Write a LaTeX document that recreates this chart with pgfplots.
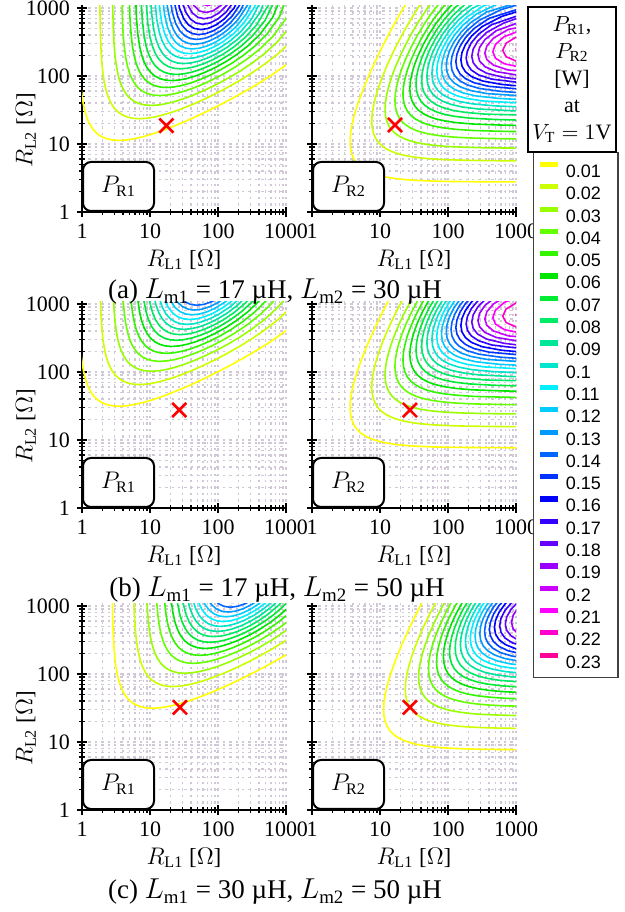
\documentclass[border=0pt]{standalone}
\usepackage{fontspec}
\setmainfont{Liberation Serif}
\newfontfamily\sansf{Liberation Sans}
\usepackage{pgfplots}
\usepackage{pgfplotstable}
\pgfplotsset{compat=1.18}

\definecolor{c1}{RGB}{255,255,0}
\definecolor{c2}{RGB}{204,255,0}
\definecolor{c3}{RGB}{153,255,0}
\definecolor{c4}{RGB}{102,255,0}
\definecolor{c5}{RGB}{51,245,0}
\definecolor{c6}{RGB}{0,230,0}
\definecolor{c7}{RGB}{0,235,51}
\definecolor{c8}{RGB}{0,235,102}
\definecolor{c9}{RGB}{0,230,153}
\definecolor{c10}{RGB}{0,230,204}
\definecolor{c11}{RGB}{0,240,255}
\definecolor{c12}{RGB}{0,204,255}
\definecolor{c13}{RGB}{0,153,255}
\definecolor{c14}{RGB}{0,102,255}
\definecolor{c15}{RGB}{0,51,255}
\definecolor{c16}{RGB}{0,0,255}
\definecolor{c17}{RGB}{51,0,255}
\definecolor{c18}{RGB}{102,0,255}
\definecolor{c19}{RGB}{153,0,255}
\definecolor{c20}{RGB}{204,0,255}
\definecolor{c21}{RGB}{255,0,255}
\definecolor{c22}{RGB}{255,0,204}
\definecolor{c23}{RGB}{255,0,153}
\definecolor{gridc}{RGB}{208,199,215}

% contour lines, log10 coordinates relative to log10((omega L_m)^2)
\pgfplotstableread[row sep=\\]{X Y\\
-1.991 1.35\\ -1.989 0.642\\ -1.986 0.271\\ -1.983 0.037\\ -1.979 -0.143\\ -1.973 -0.295\\ -1.966 -0.429\\ -1.958 -0.550\\ -1.947 -0.661\\ -1.934 -0.765\\ -1.917 -0.861\\ -1.897 -0.951\\ -1.872 -1.034\\ -1.842 -1.110\\ -1.805 -1.177\\ -1.761 -1.237\\ -1.709 -1.287\\ -1.647 -1.327\\ -1.575 -1.356\\ -1.492 -1.374\\ -1.398 -1.380\\ -1.292 -1.374\\ -1.175 -1.356\\ -1.047 -1.327\\ -0.909 -1.287\\ -0.761 -1.237\\ -0.605 -1.177\\ -0.442 -1.110\\ -0.272 -1.034\\ -0.097 -0.951\\ 0.083 -0.861\\ 0.266 -0.765\\ 0.453 -0.661\\ 0.643 -0.550\\ 0.834 -0.429\\ 1.027 -0.295\\ 1.222 -0.143\\
}\ctA
\pgfplotstableread[row sep=\\]{X Y\\
-1.681 1.35\\ -1.678 0.710\\ -1.672 0.314\\ -1.665 0.075\\ -1.657 -0.105\\ -1.646 -0.253\\ -1.633 -0.382\\ -1.616 -0.496\\ -1.596 -0.598\\ -1.571 -0.691\\ -1.541 -0.773\\ -1.504 -0.847\\ -1.460 -0.910\\ -1.408 -0.963\\ -1.346 -1.005\\ -1.274 -1.036\\ -1.191 -1.055\\ -1.097 -1.061\\ -0.991 -1.055\\ -0.874 -1.036\\ -0.746 -1.005\\ -0.608 -0.963\\ -0.460 -0.910\\ -0.304 -0.847\\ -0.141 -0.773\\ 0.029 -0.691\\ 0.204 -0.598\\ 0.384 -0.496\\ 0.567 -0.382\\ 0.754 -0.253\\ 0.944 -0.105\\ 1.135 0.075\\
}\ctB
\pgfplotstableread[row sep=\\]{X Y\\
-1.496 1.35\\ -1.489 0.643\\ -1.480 0.288\\ -1.470 0.065\\ -1.457 -0.105\\ -1.440 -0.244\\ -1.420 -0.364\\ -1.395 -0.468\\ -1.365 -0.559\\ -1.328 -0.638\\ -1.284 -0.706\\ -1.232 -0.763\\ -1.170 -0.807\\ -1.098 -0.839\\ -1.015 -0.859\\ -0.921 -0.865\\ -0.815 -0.859\\ -0.698 -0.839\\ -0.570 -0.807\\ -0.432 -0.763\\ -0.284 -0.706\\ -0.128 -0.638\\ 0.035 -0.559\\ 0.205 -0.468\\ 0.380 -0.364\\ 0.560 -0.244\\ 0.744 -0.105\\ 0.930 0.065\\ 1.120 0.288\\
}\ctC
\pgfplotstableread[row sep=\\]{X Y\\
-1.361 1.35\\ -1.355 0.866\\ -1.345 0.403\\ -1.332 0.152\\ -1.315 -0.028\\ -1.295 -0.171\\ -1.270 -0.291\\ -1.240 -0.392\\ -1.203 -0.479\\ -1.159 -0.552\\ -1.107 -0.612\\ -1.045 -0.659\\ -0.973 -0.693\\ -0.890 -0.713\\ -0.796 -0.720\\ -0.690 -0.713\\ -0.573 -0.693\\ -0.445 -0.659\\ -0.307 -0.612\\ -0.159 -0.552\\ -0.003 -0.479\\ 0.160 -0.392\\ 0.330 -0.291\\ 0.505 -0.171\\ 0.685 -0.028\\ 0.869 0.152\\ 1.055 0.403\\ 1.245 0.866\\
}\ctD
\pgfplotstableread[row sep=\\]{X Y\\
-1.254 1.35\\ -1.248 0.933\\ -1.235 0.440\\ -1.218 0.185\\ -1.198 0.006\\ -1.173 -0.134\\ -1.143 -0.249\\ -1.106 -0.344\\ -1.062 -0.423\\ -1.010 -0.488\\ -0.948 -0.538\\ -0.876 -0.573\\ -0.793 -0.595\\ -0.699 -0.602\\ -0.593 -0.595\\ -0.476 -0.573\\ -0.348 -0.538\\ -0.210 -0.488\\ -0.062 -0.423\\ 0.094 -0.344\\ 0.257 -0.249\\ 0.427 -0.134\\ 0.602 0.006\\ 0.782 0.185\\ 0.965 0.440\\ 1.152 0.933\\
}\ctE
\pgfplotstableread[row sep=\\]{X Y\\
-1.164 1.35\\ -1.155 0.866\\ -1.139 0.423\\ -1.119 0.184\\ -1.094 0.014\\ -1.064 -0.118\\ -1.027 -0.224\\ -0.983 -0.310\\ -0.931 -0.379\\ -0.869 -0.432\\ -0.797 -0.470\\ -0.714 -0.493\\ -0.620 -0.501\\ -0.514 -0.493\\ -0.397 -0.470\\ -0.269 -0.432\\ -0.131 -0.379\\ 0.017 -0.310\\ 0.173 -0.224\\ 0.336 -0.118\\ 0.506 0.014\\ 0.681 0.184\\ 0.861 0.423\\ 1.045 0.866\\ 1.164 1.35\\
}\ctF
\pgfplotstableread[row sep=\\]{X Y\\
-1.087 1.35\\ -1.072 0.743\\ -1.052 0.378\\ -1.027 0.163\\ -0.997 0.008\\ -0.960 -0.111\\ -0.916 -0.206\\ -0.864 -0.281\\ -0.802 -0.338\\ -0.730 -0.378\\ -0.647 -0.402\\ -0.553 -0.410\\ -0.447 -0.402\\ -0.330 -0.378\\ -0.202 -0.338\\ -0.064 -0.281\\ 0.084 -0.206\\ 0.240 -0.111\\ 0.403 0.008\\ 0.573 0.163\\ 0.748 0.378\\ 0.928 0.743\\ 1.087 1.35\\
}\ctG
\pgfplotstableread[row sep=\\]{X Y\\
-1.014 1.481\\ -0.994 0.617\\ -0.969 0.322\\ -0.939 0.135\\ -0.902 -0.002\\ -0.858 -0.108\\ -0.806 -0.189\\ -0.744 -0.250\\ -0.672 -0.293\\ -0.589 -0.319\\ -0.495 -0.327\\ -0.389 -0.319\\ -0.272 -0.293\\ -0.144 -0.250\\ -0.006 -0.189\\ 0.142 -0.108\\ 0.298 -0.002\\ 0.461 0.135\\ 0.631 0.322\\ 0.806 0.617\\ 0.986 1.481\\
}\ctH
\pgfplotstableread[row sep=\\]{X Y\\
-0.954 1.35\\ -0.943 0.985\\ -0.918 0.506\\ -0.888 0.267\\ -0.851 0.106\\ -0.807 -0.012\\ -0.755 -0.101\\ -0.693 -0.168\\ -0.621 -0.214\\ -0.538 -0.241\\ -0.444 -0.250\\ -0.338 -0.241\\ -0.221 -0.214\\ -0.093 -0.168\\ 0.045 -0.101\\ 0.193 -0.012\\ 0.349 0.106\\ 0.512 0.267\\ 0.682 0.506\\ 0.857 0.985\\ 0.954 1.35\\
}\ctI
\pgfplotstableread[row sep=\\]{X Y\\
-0.896 1.35\\ -0.872 0.743\\ -0.842 0.413\\ -0.805 0.219\\ -0.761 0.083\\ -0.709 -0.016\\ -0.647 -0.088\\ -0.575 -0.137\\ -0.492 -0.167\\ -0.398 -0.176\\ -0.292 -0.167\\ -0.175 -0.137\\ -0.047 -0.088\\ 0.091 -0.016\\ 0.239 0.083\\ 0.395 0.219\\ 0.558 0.413\\ 0.728 0.743\\ 0.896 1.35\\
}\ctJ
\pgfplotstableread[row sep=\\]{X Y\\
-0.831 1.133\\ -0.801 0.584\\ -0.764 0.339\\ -0.720 0.181\\ -0.668 0.070\\ -0.606 -0.009\\ -0.534 -0.063\\ -0.451 -0.094\\ -0.357 -0.105\\ -0.251 -0.094\\ -0.134 -0.063\\ -0.006 -0.009\\ 0.133 0.070\\ 0.280 0.181\\ 0.436 0.339\\ 0.599 0.584\\ 0.769 1.133\\
}\ctK
\pgfplotstableread[row sep=\\]{X Y\\
-0.790 1.35\\ -0.763 0.808\\ -0.726 0.472\\ -0.682 0.283\\ -0.630 0.157\\ -0.568 0.069\\ -0.496 0.010\\ -0.413 -0.024\\ -0.319 -0.035\\ -0.213 -0.024\\ -0.096 0.010\\ 0.032 0.069\\ 0.170 0.157\\ 0.318 0.283\\ 0.474 0.472\\ 0.637 0.808\\ 0.790 1.35\\
}\ctL
\pgfplotstableread[row sep=\\]{X Y\\
-0.728 1.176\\ -0.691 0.630\\ -0.647 0.394\\ -0.595 0.247\\ -0.533 0.148\\ -0.461 0.084\\ -0.378 0.047\\ -0.284 0.035\\ -0.178 0.047\\ -0.061 0.084\\ 0.067 0.148\\ 0.205 0.247\\ 0.353 0.394\\ 0.509 0.630\\ 0.672 1.176\\
}\ctM
\pgfplotstableread[row sep=\\]{X Y\\
-0.694 1.35\\ -0.659 0.835\\ -0.615 0.517\\ -0.563 0.342\\ -0.501 0.230\\ -0.429 0.159\\ -0.346 0.118\\ -0.252 0.105\\ -0.146 0.118\\ -0.029 0.159\\ 0.099 0.230\\ 0.237 0.342\\ 0.385 0.517\\ 0.541 0.835\\ 0.694 1.35\\
}\ctN
\pgfplotstableread[row sep=\\]{X Y\\
-0.629 1.157\\ -0.585 0.664\\ -0.533 0.446\\ -0.471 0.316\\ -0.399 0.236\\ -0.316 0.191\\ -0.222 0.176\\ -0.116 0.191\\ 0.001 0.236\\ 0.129 0.316\\ 0.267 0.446\\ 0.415 0.664\\ 0.571 1.157\\
}\ctO
\pgfplotstableread[row sep=\\]{X Y\\
-0.601 1.35\\ -0.557 0.851\\ -0.505 0.564\\ -0.443 0.409\\ -0.371 0.317\\ -0.288 0.266\\ -0.194 0.250\\ -0.088 0.266\\ 0.029 0.317\\ 0.157 0.409\\ 0.295 0.564\\ 0.443 0.851\\ 0.601 1.35\\
}\ctP
\pgfplotstableread[row sep=\\]{X Y\\
-0.531 1.133\\ -0.479 0.703\\ -0.417 0.511\\ -0.345 0.403\\ -0.262 0.346\\ -0.168 0.327\\ -0.062 0.346\\ 0.055 0.403\\ 0.183 0.511\\ 0.322 0.703\\ 0.469 1.133\\
}\ctQ
\pgfplotstableread[row sep=\\]{X Y\\
-0.512 1.35\\ -0.454 0.881\\ -0.392 0.628\\ -0.320 0.498\\ -0.237 0.431\\ -0.143 0.410\\ -0.037 0.431\\ 0.080 0.498\\ 0.208 0.628\\ 0.346 0.881\\ 0.512 1.35\\
}\ctR
\pgfplotstableread[row sep=\\]{X Y\\
-0.430 1.143\\ -0.368 0.768\\ -0.296 0.605\\ -0.213 0.525\\ -0.119 0.501\\ -0.013 0.525\\ 0.104 0.605\\ 0.232 0.768\\ 0.370 1.143\\
}\ctS
\pgfplotstableread[row sep=\\]{X Y\\
-0.408 1.736\\ -0.346 0.951\\ -0.274 0.731\\ -0.191 0.632\\ -0.097 0.602\\ 0.009 0.632\\ 0.126 0.731\\ 0.254 0.951\\ 0.392 1.736\\
}\ctT
\pgfplotstableread[row sep=\\]{X Y\\
-0.325 1.229\\ -0.253 0.888\\ -0.170 0.757\\ -0.076 0.720\\ 0.030 0.757\\ 0.147 0.888\\ 0.275 1.229\\
}\ctU
\pgfplotstableread[row sep=\\]{X Y\\
-0.305 1.962\\ -0.233 1.107\\ -0.150 0.916\\ -0.056 0.865\\ 0.050 0.916\\ 0.167 1.107\\ 0.295 1.962\\
}\ctV
\pgfplotstableread[row sep=\\]{X Y\\
-0.213 1.505\\ -0.131 1.139\\ -0.036 1.061\\ 0.070 1.139\\ 0.187 1.505\\
}\ctW

\newcommand\contours[4]{%
\addplot[cl,c1,xshift=#3,yshift=#4] table[x=#1,y=#2]{\ctA};
\addplot[cl,c2,xshift=#3,yshift=#4] table[x=#1,y=#2]{\ctB};
\addplot[cl,c3,xshift=#3,yshift=#4] table[x=#1,y=#2]{\ctC};
\addplot[cl,c4,xshift=#3,yshift=#4] table[x=#1,y=#2]{\ctD};
\addplot[cl,c5,xshift=#3,yshift=#4] table[x=#1,y=#2]{\ctE};
\addplot[cl,c6,xshift=#3,yshift=#4] table[x=#1,y=#2]{\ctF};
\addplot[cl,c7,xshift=#3,yshift=#4] table[x=#1,y=#2]{\ctG};
\addplot[cl,c8,xshift=#3,yshift=#4] table[x=#1,y=#2]{\ctH};
\addplot[cl,c9,xshift=#3,yshift=#4] table[x=#1,y=#2]{\ctI};
\addplot[cl,c10,xshift=#3,yshift=#4] table[x=#1,y=#2]{\ctJ};
\addplot[cl,c11,xshift=#3,yshift=#4] table[x=#1,y=#2]{\ctK};
\addplot[cl,c12,xshift=#3,yshift=#4] table[x=#1,y=#2]{\ctL};
\addplot[cl,c13,xshift=#3,yshift=#4] table[x=#1,y=#2]{\ctM};
\addplot[cl,c14,xshift=#3,yshift=#4] table[x=#1,y=#2]{\ctN};
\addplot[cl,c15,xshift=#3,yshift=#4] table[x=#1,y=#2]{\ctO};
\addplot[cl,c16,xshift=#3,yshift=#4] table[x=#1,y=#2]{\ctP};
\addplot[cl,c17,xshift=#3,yshift=#4] table[x=#1,y=#2]{\ctQ};
\addplot[cl,c18,xshift=#3,yshift=#4] table[x=#1,y=#2]{\ctR};
\addplot[cl,c19,xshift=#3,yshift=#4] table[x=#1,y=#2]{\ctS};
\addplot[cl,c20,xshift=#3,yshift=#4] table[x=#1,y=#2]{\ctT};
\addplot[cl,c21,xshift=#3,yshift=#4] table[x=#1,y=#2]{\ctU};
\addplot[cl,c22,xshift=#3,yshift=#4] table[x=#1,y=#2]{\ctV};
\addplot[cl,c23,xshift=#3,yshift=#4] table[x=#1,y=#2]{\ctW};
}

\tikzset{
 plab/.style={draw, rounded corners=4pt, fill=white, line width=1pt, minimum width=35.5pt, minimum height=24.5pt, anchor=south west, inner sep=0pt, font=\fontsize{11.5}{12}\selectfont},
}
\pgfplotsset{
 cl/.style={no marks, line width=0.8pt, line join=round},
 xmk/.style={only marks, mark=x, mark size=5pt, red, mark options={line width=1.3pt}},
 panel/.style={
  scale only axis, width=102pt, height=103.36pt, anchor=south west,
  xmin=0, xmax=3, ymin=0, ymax=3.04,
  axis x line=bottom, axis y line=left,
  axis line style={line width=1pt, -},
  xtick={0,1,2,3}, ytick={0,1,2,3},
  xticklabels={\textrm{1},\textrm{10},\textrm{100},\textrm{1000}},
  minor xtick={0.301,0.477,0.602,0.699,0.778,0.845,0.903,0.954,1.301,1.477,1.602,1.699,1.778,1.845,1.903,1.954,2.301,2.477,2.602,2.699,2.778,2.845,2.903,2.954},
  minor ytick={0.301,0.477,0.602,0.699,0.778,0.845,0.903,0.954,1.301,1.477,1.602,1.699,1.778,1.845,1.903,1.954,2.301,2.477,2.602,2.699,2.778,2.845,2.903,2.954},
  tick align=center, major tick length=5pt, minor tick length=3pt,
  every tick/.append style={black, line width=0.8pt},
  grid=both,
  minor grid style={gridc, line width=0.7pt, dash pattern=on 1.2pt off 2pt},
  major grid style={gridc, line width=0.7pt, dash pattern=on 1.2pt off 2pt},
  ticklabel style={font=\fontsize{11}{11}\selectfont},
  label style={font=\fontsize{11.5}{12}\selectfont},
  xlabel={$R_{\mathrm{L1}}$ [$\Omega$]},
  xlabel style={at={(axis description cs:0.5,-0.232)}, anchor=center},
 },
 lpanel/.style={panel,
  yticklabels={\textrm{1},\textrm{10},\textrm{100},\textrm{1000}},
  ylabel={$R_{\mathrm{L2}}$ [$\Omega$]},
  ylabel style={at={(axis description cs:-0.275,0.395)}, anchor=center},
 },
 rpanel/.style={panel, yticklabels={,,,}},
}

\begin{document}
\begin{tikzpicture}
\path[use as bounding box] (0,0) rectangle (312.5pt,456pt);

% (a)
\begin{axis}[lpanel, at={(41pt,350pt)}]
\contours{X}{Y}{65.943pt}{82.715pt}
\addplot[xmk] coordinates {(1.24,1.27)};
\node[plab] at (rel axis cs:0,0) {$P_{\mathrm{R1}}$};
\end{axis}
\begin{axis}[rpanel, at={(156pt,350pt)}]
\contours{Y}{X}{65.943pt}{82.715pt}
\addplot[xmk] coordinates {(1.22,1.28)};
\node[plab] at (rel axis cs:0,0) {$P_{\mathrm{R2}}$};
\end{axis}

% (b)
\begin{axis}[lpanel, at={(41pt,202pt)}]
\contours{X}{Y}{65.943pt}{97.801pt}
\addplot[xmk] coordinates {(1.43,1.44)};
\node[plab] at (rel axis cs:0,0) {$P_{\mathrm{R1}}$};
\end{axis}
\begin{axis}[rpanel, at={(156pt,202pt)}]
\contours{Y}{X}{65.943pt}{97.801pt}
\addplot[xmk] coordinates {(1.44,1.44)};
\node[plab] at (rel axis cs:0,0) {$P_{\mathrm{R2}}$};
\end{axis}

% (c)
\begin{axis}[lpanel, at={(41pt,51pt)}]
\contours{X}{Y}{82.715pt}{97.801pt}
\addplot[xmk] coordinates {(1.44,1.51)};
\node[plab] at (rel axis cs:0,0) {$P_{\mathrm{R1}}$};
\end{axis}
\begin{axis}[rpanel, at={(156pt,51pt)}]
\contours{Y}{X}{82.715pt}{97.801pt}
\addplot[xmk] coordinates {(1.44,1.51)};
\node[plab] at (rel axis cs:0,0) {$P_{\mathrm{R2}}$};
\end{axis}

% legend
\begin{axis}[hide axis, scale only axis, width=10pt, height=10pt,
  xmin=0, xmax=1, ymin=0, ymax=1, at={(266.5pt,380pt)}, anchor=north west,
  legend style={at={(0,1)}, anchor=north west, draw=black!75, line width=0.7pt,
    inner xsep=2pt, inner ysep=4.6pt, row sep=3.4pt, column sep=2.5pt,
    font=\sansf\fontsize{9}{9}\selectfont,
    nodes={inner sep=0pt, text height=6.5pt, text depth=0pt}},
  legend cell align=left,
  legend image code/.code={\draw[line width=2.6pt] (0pt,3.2pt) -- (9pt,3.2pt);}]
\addlegendimage{c1}\addlegendentry{\makebox[24pt][l]{0.01}}
\addlegendimage{c2}\addlegendentry{0.02}
\addlegendimage{c3}\addlegendentry{0.03}
\addlegendimage{c4}\addlegendentry{0.04}
\addlegendimage{c5}\addlegendentry{0.05}
\addlegendimage{c6}\addlegendentry{0.06}
\addlegendimage{c7}\addlegendentry{0.07}
\addlegendimage{c8}\addlegendentry{0.08}
\addlegendimage{c9}\addlegendentry{0.09}
\addlegendimage{c10}\addlegendentry{0.1}
\addlegendimage{c11}\addlegendentry{0.11}
\addlegendimage{c12}\addlegendentry{0.12}
\addlegendimage{c13}\addlegendentry{0.13}
\addlegendimage{c14}\addlegendentry{0.14}
\addlegendimage{c15}\addlegendentry{0.15}
\addlegendimage{c16}\addlegendentry{0.16}
\addlegendimage{c17}\addlegendentry{0.17}
\addlegendimage{c18}\addlegendentry{0.18}
\addlegendimage{c19}\addlegendentry{0.19}
\addlegendimage{c20}\addlegendentry{0.2}
\addlegendimage{c21}\addlegendentry{0.21}
\addlegendimage{c22}\addlegendentry{0.22}
\addlegendimage{c23}\addlegendentry{0.23}
\end{axis}

% title box
\node[draw, line width=0.9pt, anchor=north, minimum width=44pt, minimum height=72.5pt,
  inner sep=1pt, align=center, font=\fontsize{11}{13.5}\selectfont]
  at (286pt,453pt) {$P_{\mathrm{R1}}$,\\ $P_{\mathrm{R2}}$\\ {[W]}\\ at\\ $V_{\mathrm{T}}=1$V};

% captions
\node[font=\fontsize{13.5}{14}\selectfont] at (137.5pt,310pt)
  {(a) $L_{\mathrm{m1}}$\ =\ 17\ µH, $L_{\mathrm{m2}}$\ =\ 30\ µH};
\node[font=\fontsize{13.5}{14}\selectfont] at (138.5pt,161pt)
  {(b) $L_{\mathrm{m1}}$\ =\ 17\ µH, $L_{\mathrm{m2}}$\ =\ 50\ µH};
\node[font=\fontsize{13.5}{14}\selectfont] at (137.5pt,10pt)
  {(c) $L_{\mathrm{m1}}$\ =\ 30\ µH, $L_{\mathrm{m2}}$\ =\ 50\ µH};
\end{tikzpicture}
\end{document}
